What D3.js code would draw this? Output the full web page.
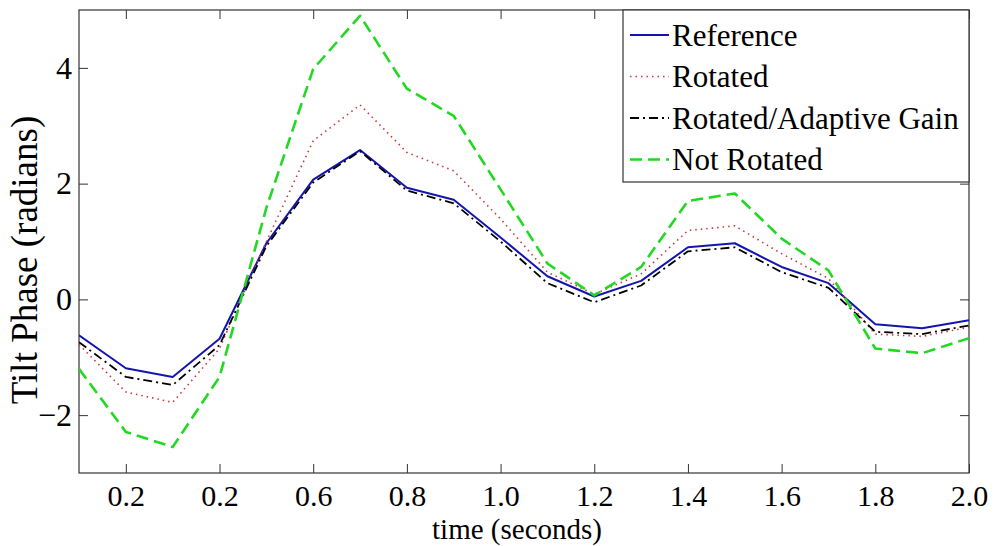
<!DOCTYPE html>
<html>
<head>
<meta charset="utf-8">
<script src="https://cdn.jsdelivr.net/npm/d3@7"></script>
<style>
  body { margin: 0; background: #fff; }
  svg text { font-family: "Liberation Serif", "Times New Roman", serif; fill: #000; }
</style>
</head>
<body>
<div id="viz"></div>
<script>
// Sample times (seconds)
var time = [0.1, 0.2, 0.3, 0.4, 0.5, 0.6, 0.7, 0.8, 0.9, 1.0,
            1.1, 1.2, 1.3, 1.4, 1.5, 1.6, 1.7, 1.8, 1.9, 2.0];

// Tilt phase (radians)
var reference  = [-0.62, -1.19, -1.34, -0.68, 0.97, 2.07, 2.58, 1.93, 1.72, 1.07,
                  0.40, 0.05, 0.32, 0.90, 0.97, 0.56, 0.28, -0.43, -0.50, -0.36];
var rotated    = [-0.78, -1.60, -1.78, -0.85, 1.00, 2.74, 3.36, 2.54, 2.22, 1.39,
                  0.47, 0.09, 0.44, 1.19, 1.27, 0.79, 0.36, -0.60, -0.64, -0.48];
var adaptive   = [-0.74, -1.34, -1.48, -0.79, 0.92, 2.02, 2.56, 1.88, 1.66, 1.00,
                  0.28, -0.05, 0.24, 0.83, 0.90, 0.47, 0.20, -0.56, -0.60, -0.45];
var notRotated = [-1.20, -2.29, -2.55, -1.34, 1.58, 3.98, 4.90, 3.64, 3.17, 1.90,
                  0.62, 0.07, 0.56, 1.70, 1.83, 1.05, 0.50, -0.85, -0.93, -0.67];

// x tick positions and the labels as printed on the original
var xTicks = [0.2, 0.4, 0.6, 0.8, 1.0, 1.2, 1.4, 1.6, 1.8, 2.0];
var xTickLabels = ["0.2", "0.2", "0.6", "0.8", "1.0", "1.2", "1.4", "1.6", "1.8", "2.0"];
var yTicks = [-2, 0, 2, 4];

var seriesNames = ["Reference", "Rotated", "Rotated/Adaptive Gain", "Not Rotated"];

var width = 994, height = 546;
var margin = {top: 10, right: 25, bottom: 73, left: 79};
var innerW = width - margin.left - margin.right;
var innerH = height - margin.top - margin.bottom;

// line styles for each series
var styles = [
  {color: "#1414b0", width: 2, dash: null},
  {color: "#c83a3a", width: 1.6, dash: "1.5,4"},
  {color: "#000000", width: 1.8, dash: "9,4,2,4"},
  {color: "#22d822", width: 2.6, dash: "12,6"}
];

var series = [reference, rotated, adaptive, notRotated].map(function (vals, i) {
  return {
    name: seriesNames[i],
    style: styles[i],
    points: vals.map(function (v, j) { return {t: time[j], v: v}; })
  };
});

var x = d3.scaleLinear().domain([0.1, 2.0]).range([0, innerW]);
var y = d3.scaleLinear().domain([-3, 5]).range([innerH, 0]);

var svg = d3.select("#viz").append("svg")
  .attr("width", width)
  .attr("height", height);

var g = svg.append("g")
  .attr("transform", "translate(" + margin.left + "," + margin.top + ")");

// clip lines to the axes box
g.append("clipPath").attr("id", "clip")
  .append("rect").attr("width", innerW).attr("height", innerH);

// axes with inward ticks (matlab look)
var tickLen = 9;
var xAxis = g.append("g")
  .attr("transform", "translate(0," + innerH + ")")
  .call(d3.axisBottom(x).tickValues(xTicks)
    .tickFormat(function (d, i) { return xTickLabels[i]; })
    .tickSizeInner(-tickLen).tickSizeOuter(0).tickPadding(12));

var xAxisTop = g.append("g")
  .call(d3.axisTop(x).tickValues(xTicks).tickFormat("")
    .tickSizeInner(-tickLen).tickSizeOuter(0));

var yAxis = g.append("g")
  .call(d3.axisLeft(y).tickValues(yTicks).tickFormat(d3.format("d"))
    .tickSizeInner(-tickLen).tickSizeOuter(0).tickPadding(7));

var yAxisRight = g.append("g")
  .attr("transform", "translate(" + innerW + ",0)")
  .call(d3.axisRight(y).tickValues(yTicks).tickFormat("")
    .tickSizeInner(-tickLen).tickSizeOuter(0));

[xAxis, xAxisTop, yAxis, yAxisRight].forEach(function (a) {
  a.select(".domain").remove();
  a.selectAll(".tick line").attr("stroke", "#333");
  a.selectAll("text")
    .style("font-family", "'Liberation Serif', 'Times New Roman', serif");
});
xAxis.selectAll("text").style("font-size", "30px");
yAxis.selectAll("text").style("font-size", "32px");

// frame
g.append("rect")
  .attr("width", innerW).attr("height", innerH)
  .attr("fill", "none").attr("stroke", "#333").attr("stroke-width", 1.2);

var line = d3.line()
  .x(function (d) { return x(d.t); })
  .y(function (d) { return y(d.v); });

g.append("g").attr("clip-path", "url(#clip)")
  .selectAll("path.series")
  .data(series)
  .enter().append("path")
  .attr("class", "series")
  .attr("d", function (d) { return line(d.points); })
  .attr("fill", "none")
  .attr("stroke", function (d) { return d.style.color; })
  .attr("stroke-width", function (d) { return d.style.width; })
  .attr("stroke-dasharray", function (d) { return d.style.dash; })
  .attr("stroke-linejoin", "round");

// axis titles
svg.append("text")
  .attr("x", 517)
  .attr("y", 539)
  .attr("text-anchor", "middle")
  .style("font-size", "29px")
  .text("time (seconds)");

svg.append("text")
  .attr("transform", "translate(37,260) rotate(-90)")
  .attr("text-anchor", "middle")
  .style("font-size", "37px")
  .text("Tilt Phase (radians)");

// legend
var legendW = 346, legendH = 172, rowH = 41.5;
var legend = g.append("g")
  .attr("transform", "translate(" + (innerW - legendW) + ",0)");

legend.append("rect")
  .attr("width", legendW).attr("height", legendH)
  .attr("fill", "#fff").attr("stroke", "#333").attr("stroke-width", 1.2);

var rows = legend.selectAll(".row")
  .data(series)
  .enter().append("g")
  .attr("class", "row")
  .attr("transform", function (d, i) { return "translate(0," + (25 + i * rowH) + ")"; });

rows.append("line")
  .attr("x1", 7).attr("x2", 46)
  .attr("stroke", function (d) { return d.style.color; })
  .attr("stroke-width", function (d) { return d.style.width; })
  .attr("stroke-dasharray", function (d) { return d.style.dash; });

rows.append("text")
  .attr("x", 49)
  .attr("dy", "0.35em")
  .style("font-size", "31px")
  .text(function (d) { return d.name; });
</script>
</body>
</html>
